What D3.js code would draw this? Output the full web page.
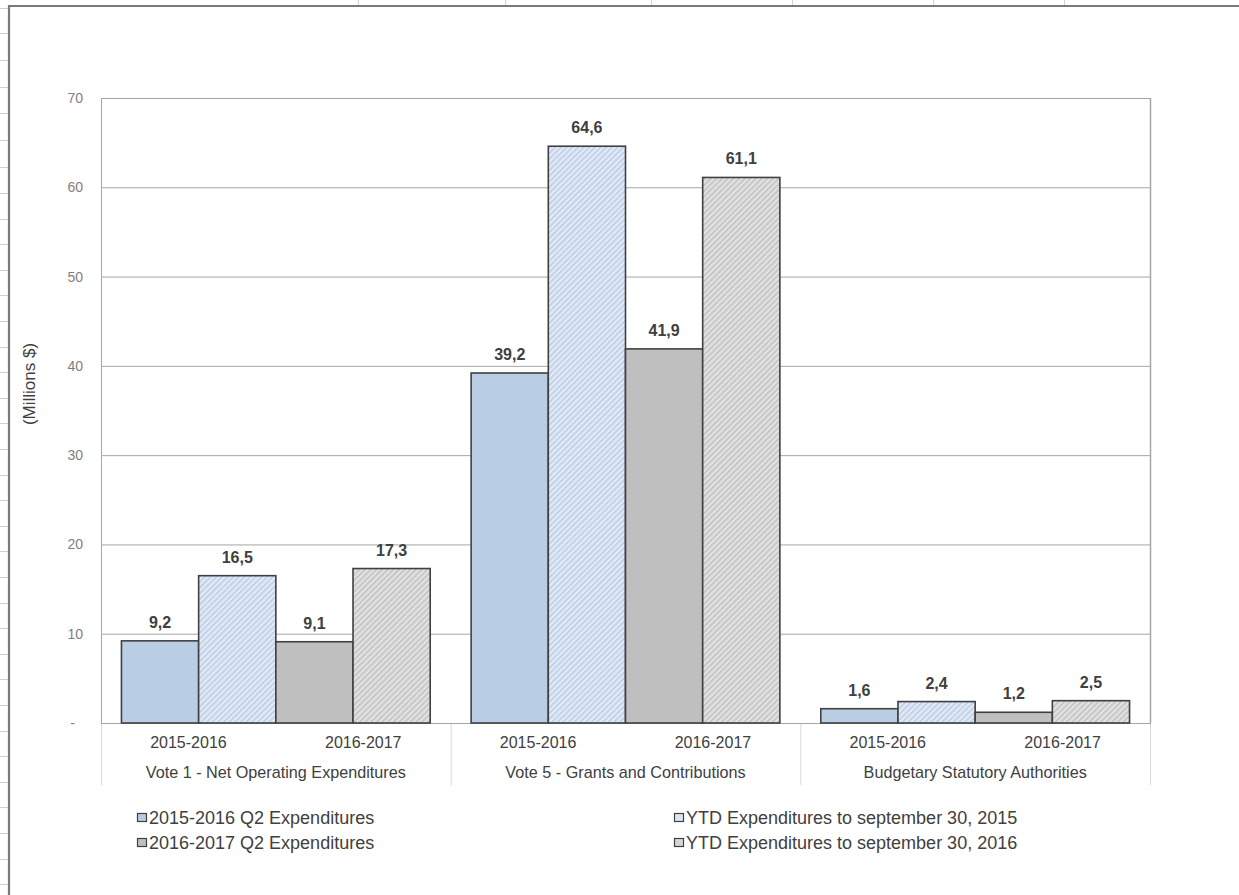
<!DOCTYPE html>
<html>
<head>
<meta charset="utf-8">
<script src="https://cdn.jsdelivr.net/npm/d3@7"></script>
<style>
  html, body { margin: 0; padding: 0; background: #fff; }
  svg { display: block; font-family: "Liberation Sans", Arial, sans-serif; }
</style>
</head>
<body>
<svg id="chart" width="1239" height="895"></svg>
<script>
// ---- data ----
const groups = ["Vote 1 - Net Operating Expenditures", "Vote 5 - Grants and Contributions", "Budgetary Statutory Authorities"];
const years = ["2015-2016", "2016-2017"];
const seriesNames = ["2015-2016 Q2 Expenditures", "YTD Expenditures to september 30, 2015", "2016-2017 Q2 Expenditures", "YTD Expenditures to september 30, 2016"];
const q2_2015 = [9.2, 39.2, 1.6];
const ytd_2015 = [16.5, 64.6, 2.4];
const q2_2016 = [9.1, 41.9, 1.2];
const ytd_2016 = [17.3, 61.1, 2.5];
const yTicks = [0, 10, 20, 30, 40, 50, 60, 70];
const yTitle = "(Millions $)";

const seriesValues = [q2_2015, ytd_2015, q2_2016, ytd_2016];

// ---- layout ----
const svg = d3.select("#chart");
const W = 1239, H = 895;
const plot = { left: 101, right: 1150, top: 98, bottom: 723 };

const fills = ["#b9cde5", "url(#hatchBlue)", "#bfbfbf", "url(#hatchGrey)"];
const swatchFills = ["#b9cde5", "#dce6f2", "#bfbfbf", "#d6d6d6"];

// patterns
const defs = svg.append("defs");
function hatch(id, bg, stripe) {
  const p = defs.append("pattern").attr("id", id)
    .attr("patternUnits", "userSpaceOnUse").attr("width", 4).attr("height", 4)
    .attr("patternTransform", "rotate(45)");
  p.append("rect").attr("width", 4).attr("height", 4).attr("fill", bg);
  p.append("rect").attr("width", 1.6).attr("height", 4).attr("fill", stripe);
}
hatch("hatchBlue", "#e2eaf5", "#bccee6");
hatch("hatchGrey", "#e2e2e2", "#c2c2c2");

// ---- spreadsheet frame decoration ----
const deco = svg.append("g");
[358, 505, 651, 792, 933, 1064].forEach(x => {
  deco.append("line").attr("x1", x + 0.5).attr("x2", x + 0.5).attr("y1", 0).attr("y2", 5)
    .attr("stroke", "#d4d4d4").attr("stroke-width", 1);
});
const rowTicks = [8, 33, 60, 87, 113, 140, 167, 193];
for (let yy = 193 + 25.6; yy < H; yy += 25.6) rowTicks.push(Math.round(yy));
rowTicks.forEach(yy => {
  deco.append("line").attr("x1", 0).attr("x2", 8).attr("y1", yy + 0.5).attr("y2", yy + 0.5)
    .attr("stroke", "#d0d0d0").attr("stroke-width", 1);
});
deco.append("line").attr("x1", 8).attr("x2", W).attr("y1", 6).attr("y2", 6)
  .attr("stroke", "#7a7a7a").attr("stroke-width", 2.2);
deco.append("line").attr("x1", 9).attr("x2", 9).attr("y1", 5).attr("y2", H)
  .attr("stroke", "#7a7a7a").attr("stroke-width", 2.2);

// ---- scales ----
const y = d3.scaleLinear().domain([0, 70]).range([plot.bottom, plot.top]);
const x0 = d3.scaleBand().domain(groups).range([plot.left, plot.right]).padding(0);
const x1 = d3.scaleBand().domain(seriesNames).range([0, x0.bandwidth()]).paddingInner(0).paddingOuter(0.265);
const xYear = d3.scaleBand().domain(years).range([0, x0.bandwidth()]).padding(0);

// ---- gridlines ----
svg.append("g")
  .attr("transform", `translate(${plot.left},0)`)
  .call(d3.axisLeft(y).tickValues(yTicks).tickSize(-(plot.right - plot.left)).tickFormat(""))
  .call(g => g.select(".domain").remove())
  .call(g => g.selectAll(".tick line").attr("stroke", "#a6a6a6").attr("stroke-width", 1));

// plot border (left, right)
svg.append("line").attr("x1", plot.left + 0.5).attr("x2", plot.left + 0.5).attr("y1", plot.top).attr("y2", plot.bottom)
  .attr("stroke", "#a6a6a6");
svg.append("line").attr("x1", plot.right + 0.5).attr("x2", plot.right + 0.5).attr("y1", plot.top).attr("y2", plot.bottom)
  .attr("stroke", "#a6a6a6").attr("stroke-width", 1.5);

// ---- y axis labels ----
const yAxis = svg.append("g")
  .attr("transform", `translate(${plot.left},0)`)
  .call(d3.axisLeft(y).tickValues(yTicks).tickSize(0).tickPadding(18).tickFormat(d => d === 0 ? "-" : d))
  .call(g => g.select(".domain").remove());
yAxis.selectAll("text")
  .attr("font-family", "'Liberation Sans', Arial, sans-serif")
  .attr("font-size", 14).attr("fill", "#808080");
yAxis.selectAll(".tick").filter(d => d === 0).select("text").attr("dx", -8);

svg.append("text")
  .attr("transform", `translate(35,384) rotate(-90)`)
  .attr("text-anchor", "middle")
  .attr("font-size", 17).attr("fill", "#404040")
  .text(yTitle);

// ---- x axis (multi-level) ----
const xAxisG = svg.append("g");
xAxisG.append("line").attr("x1", plot.left).attr("x2", plot.right + 1).attr("y1", plot.bottom + 0.5).attr("y2", plot.bottom + 0.5)
  .attr("stroke", "#a6a6a6");
const dividers = [plot.left].concat(groups.map(g => x0(g) + x0.bandwidth()));
dividers.forEach(d => {
  xAxisG.append("line").attr("x1", d + 0.5).attr("x2", d + 0.5)
    .attr("y1", plot.bottom + 1).attr("y2", 785)
    .attr("stroke", "#d9d9d9");
});
groups.forEach(g => {
  years.forEach(yr => {
    xAxisG.append("text")
      .attr("x", x0(g) + xYear(yr) + xYear.bandwidth() / 2)
      .attr("y", 748)
      .attr("text-anchor", "middle").attr("font-size", 16).attr("fill", "#404040")
      .text(yr);
  });
  xAxisG.append("text")
    .attr("x", x0(g) + x0.bandwidth() / 2)
    .attr("y", 778)
    .attr("text-anchor", "middle").attr("font-size", 16.2).attr("fill", "#404040")
    .text(g);
});

// ---- bars ----
const barData = [];
groups.forEach((g, gi) => {
  seriesNames.forEach((s, si) => {
    barData.push({ group: g, series: s, si: si, value: seriesValues[si][gi] });
  });
});

svg.append("g").selectAll("rect")
  .data(barData)
  .join("rect")
  .attr("x", d => x0(d.group) + x1(d.series))
  .attr("y", d => y(d.value))
  .attr("width", x1.bandwidth())
  .attr("height", d => y(0) - y(d.value))
  .attr("fill", d => fills[d.si])
  .attr("stroke", "#404040")
  .attr("stroke-width", 1.6);

// ---- data labels ----
const fmt = v => v.toFixed(1).replace(".", ",");
svg.append("g").selectAll("text")
  .data(barData)
  .join("text")
  .attr("x", d => x0(d.group) + x1(d.series) + x1.bandwidth() / 2)
  .attr("y", d => y(d.value) - 13)
  .attr("text-anchor", "middle")
  .attr("font-size", 16).attr("font-weight", "bold").attr("fill", "#404040")
  .text(d => fmt(d.value));

// ---- legend ----
const legendCols = [137, 674];
const legendRows = [813, 838];
const legend = svg.append("g").selectAll("g")
  .data(seriesNames)
  .join("g")
  .attr("transform", (d, i) => `translate(${legendCols[i % 2]},${legendRows[Math.floor(i / 2)]})`);
legend.append("rect")
  .attr("x", 0.5).attr("y", 0.5).attr("width", 9).attr("height", 8)
  .attr("fill", (d, i) => swatchFills[i]).attr("stroke", "#404040").attr("stroke-width", 1.2);
legend.append("text")
  .attr("x", 12).attr("y", 10.5)
  .attr("font-size", 18).attr("fill", "#404040")
  .text(d => d);
</script>
</body>
</html>
